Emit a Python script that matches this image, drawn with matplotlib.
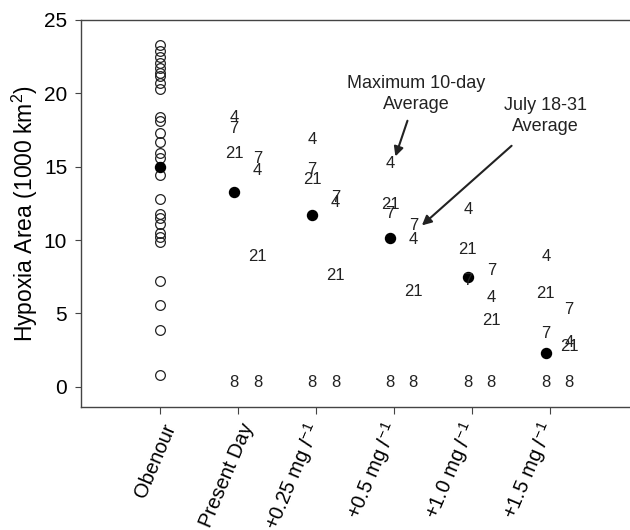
# %% Import libraries required
import numpy as np
from matplotlib import pyplot as plt
from matplotlib.transforms import ScaledTranslation, blended_transform_factory

plt.rcParams['font.family'] = ['Liberation Sans', 'DejaVu Sans']
plt.rcParams['mathtext.fontset'] = 'custom'
plt.rcParams['mathtext.rm'] = 'Liberation Sans'
plt.rcParams['mathtext.it'] = 'Liberation Sans:italic'

# %% Data
categories = ['Obenour', 'Present Day', r'+0.25 mg $\it{l}^{-1}$', r'+0.5 mg $\it{l}^{-1}$',
              r'+1.0 mg $\it{l}^{-1}$', r'+1.5 mg $\it{l}^{-1}$']

obenour = [23.3, 22.9, 22.5, 22.1, 21.7, 21.4, 21.2, 20.7, 20.3, 18.4, 18.1, 17.3, 16.7,
           15.9, 15.6, 14.4, 12.8, 11.8, 11.5, 11.1, 10.5, 10.2, 9.9, 7.2, 5.6, 3.9, 0.8]

# mean (filled dot) per category
means = [15.0, 13.3, 11.7, 10.15, 7.45, 2.3]

# year labels drawn as text, left group (maximum 10-day) and right group (July 18-31)
max10_4 = [18.35, 16.85, 15.2, 12.05, 8.85]
max10_7 = [17.6, 14.8, 11.8, 7.25, 3.6]
max10_21 = [15.9, 14.15, 12.45, 9.35, 6.35]
max10_8 = [0.3, 0.3, 0.3, 0.3, 0.3]
jul_4 = [14.75, 12.55, 10.05, 6.1, 3.0]
jul_7 = [15.55, 12.9, 11.0, 7.95, 5.25]
jul_21 = [8.9, 7.6, 6.5, 4.55, 2.75]
jul_8 = [0.3, 0.3, 0.3, 0.3, 0.3]

# %% Figure
fig = plt.figure(figsize=(6.3, 5.3), dpi=100)
ax = fig.add_axes([0.1286, 0.2326, 0.8714, 0.7297])
ink = '#222222'

x = np.arange(len(categories))
ax.plot(np.zeros(len(obenour)), obenour, 'o', mfc='none', mec=ink, ms=7, mew=0.9)
ax.plot(0, means[0], 'o', color='black', ms=7.2)
ax.plot(x[1:] - 0.05, means[1:], 'o', color='black', ms=7.2)

scen_x = x[1:]
for vals, off, lab in [(max10_4, -0.05, '4'), (max10_7, -0.05, '7'), (max10_21, -0.05, '21'),
                       (max10_8, -0.05, '8'), (jul_4, 0.25, '4'), (jul_7, 0.25, '7'),
                       (jul_21, 0.25, '21'), (jul_8, 0.25, '8')]:
    for xi, v in zip(scen_x, vals):
        ax.text(xi + off, v, lab, ha='center', va='center', fontsize=12, color=ink)

# %% Annotations
ax.annotate('Maximum 10-day\nAverage', xy=(3.02, 15.7), xytext=(3.29, 19.95),
            ha='center', va='center', fontsize=13, color=ink, linespacing=1.25,
            arrowprops=dict(arrowstyle='-|>', color=ink, lw=1.5, mutation_scale=14,
                            shrinkA=4, shrinkB=0))
ax.annotate('July 18-31\nAverage', xy=(3.36, 11.0), xytext=(4.94, 18.45),
            ha='center', va='center', fontsize=13, color=ink, linespacing=1.25,
            arrowprops=dict(arrowstyle='-|>', color=ink, lw=1.5, mutation_scale=14,
                            shrinkA=9, shrinkB=0))

# %% Axes styling
ax.set_xlim(-1.014, 6.03)
ax.set_ylim(-1.36, 25)
ax.set_yticks([0, 5, 10, 15, 20, 25])
ax.set_xticks(x)
ax.set_xticklabels([])
# category labels drawn by hand so they can be nudged like the original
base = blended_transform_factory(ax.transData, ax.transAxes)
for i, lab in enumerate(categories):
    dx, dy = (0.11, -0.175) if i < 2 else (-0.01, -0.175)
    ax.text(i, 0, lab, transform=base + ScaledTranslation(dx, dy, fig.dpi_scale_trans),
            rotation=67, rotation_mode='anchor', ha='right', va='center',
            fontsize=14.5, color='black', clip_on=False)
ax.tick_params(axis='y', labelsize=15, length=4, color='#444444', pad=6)
ax.tick_params(axis='x', length=5, color='#444444')
ax.set_ylabel('Hypoxia Area (1000 km$^2$)', fontsize=16.5, labelpad=3)
ax.spines['right'].set_visible(False)
for s in ['left', 'top', 'bottom']:
    ax.spines[s].set_color('#444444')
    ax.spines[s].set_linewidth(1.0)

fig.savefig('out.png', dpi=100)
